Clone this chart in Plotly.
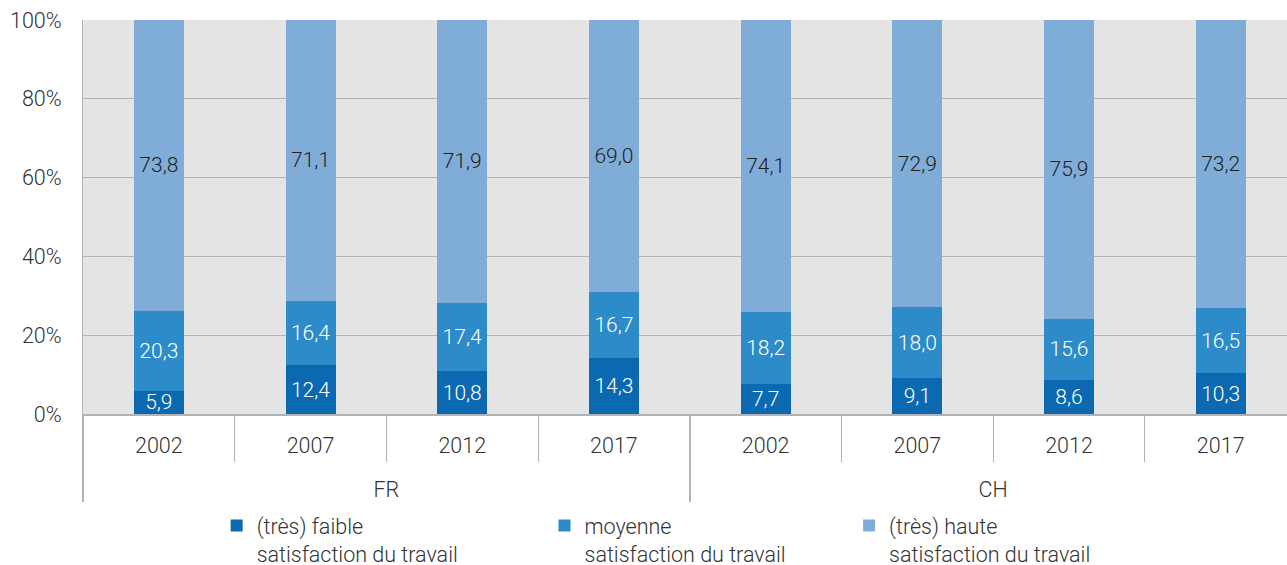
import plotly.graph_objects as go

countries = ["FR"] * 4 + ["CH"] * 4
years = ["2002", "2007", "2012", "2017"] * 2

faible = [5.9, 12.4, 10.8, 14.3, 7.7, 9.1, 8.6, 10.3]
moyenne = [20.3, 16.4, 17.4, 16.7, 18.2, 18.0, 15.6, 16.5]
haute = [73.8, 71.1, 71.9, 69.0, 74.1, 72.9, 75.9, 73.2]

series_names = [
    "(très) faible<br>satisfaction du travail",
    "moyenne<br>satisfaction du travail",
    "(très) haute<br>satisfaction du travail",
]
colors = ["#0a69b0", "#2d8bc9", "#80acd8"]
text_colors = ["white", "white", "#222222"]
legend_ids = ["legend", "legend2", "legend3"]
legend_x = [0.111, 0.3833, 0.6363]

FONT = "Roboto"
year_labels = [y + "<br> " for y in years]

fig = go.Figure()
for vals, name, col, tc, lg in zip([faible, moyenne, haute], series_names, colors, text_colors, legend_ids):
    fig.add_trace(go.Bar(
        x=[countries, year_labels], y=vals, name=name, legend=lg,
        marker=dict(color=col, line=dict(width=0)),
        texttemplate="%{y:.1f}", textposition="inside",
        insidetextanchor="middle",
        textfont=dict(color=tc, size=21, family=FONT, weight=300),
        textangle=0,
    ))

legend_common = dict(
    orientation="h", y=-0.2313, xanchor="left", yanchor="top",
    font=dict(size=21.5, color="#333333", family=FONT, weight=300),
    valign="top", bgcolor="rgba(0,0,0,0)", itemwidth=30,
)
layout_legends = {}
for lg, lx in zip(legend_ids, legend_x):
    layout_legends[lg] = dict(legend_common, x=lx)

fig.update_layout(
    barmode="stack",
    bargap=0.67,
    separators=", ",
    width=1287, height=565,
    margin=dict(l=83, r=0, t=20, b=151, autoexpand=False),
    paper_bgcolor="white",
    plot_bgcolor="#e4e4e4",
    font=dict(family=FONT, size=21, color="#333333", weight=300),
    uniformtext=dict(minsize=18, mode="show"),
    showlegend=True,
    **layout_legends,
)
fig.update_yaxes(
    range=[0, 100], dtick=20, ticksuffix="%",
    gridcolor="#b3b3b3", gridwidth=1,
    showline=True, linecolor="#b3b3b3", zeroline=False,
    tickfont=dict(size=21.5, color="#333333", family=FONT, weight=300),
    ticklabelstandoff=16, automargin=False,
)
fig.update_xaxes(
    range=[-0.5, 7.437],
    showline=True, linecolor="#b3b3b3", linewidth=1.5,
    tickson="boundaries", ticks="outside", ticklen=46, tickcolor="#b3b3b3",
    showdividers=True, dividercolor="#b3b3b3", dividerwidth=1.5,
    tickfont=dict(size=21.5, color="#333333", family=FONT, weight=300),
    ticklabelstandoff=11, automargin=False,
)

fig.write_html(
    "out.html",
    config={"displayModeBar": False},
    post_script="document.body.style.margin='0';document.body.style.overflow='hidden';",
)
